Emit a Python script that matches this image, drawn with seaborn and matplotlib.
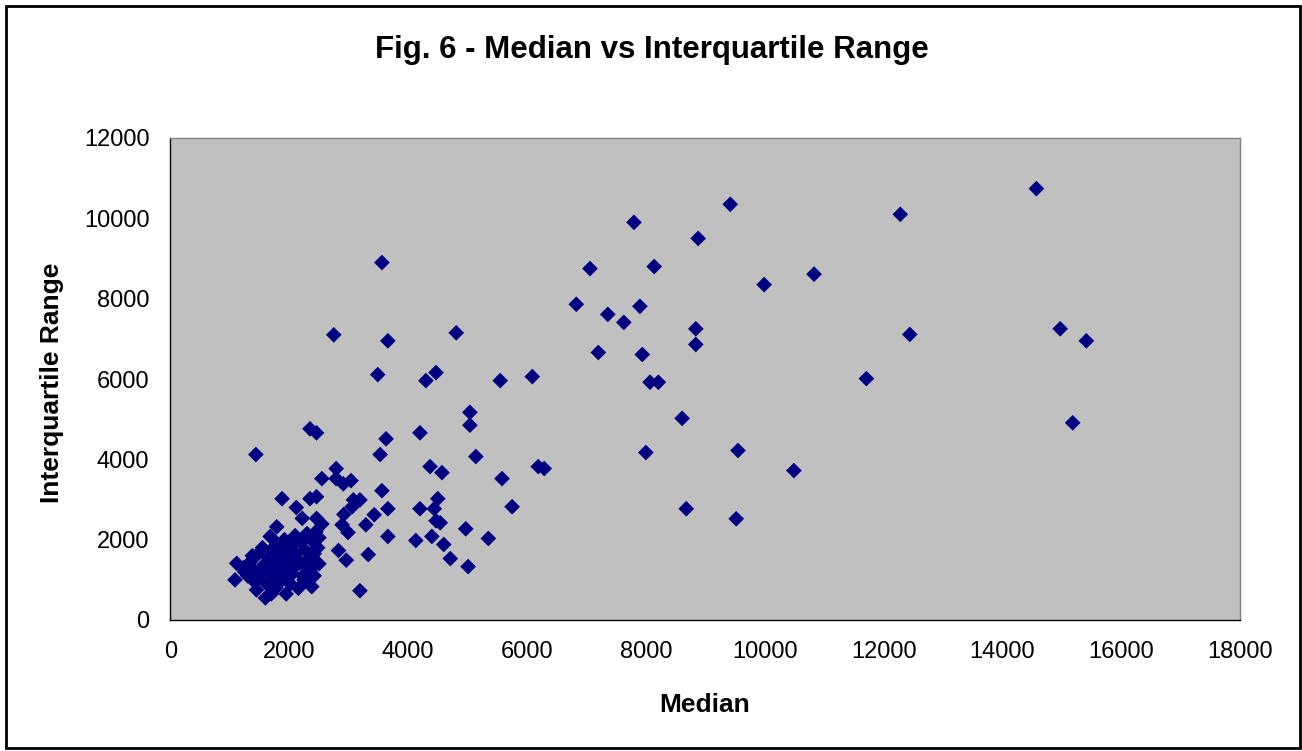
import matplotlib
matplotlib.use("Agg")
import matplotlib.pyplot as plt
from matplotlib.patches import Rectangle
import seaborn as sns
import pandas as pd

# ---- data ----
median = [
    14570, 12280, 12440, 11710, 14970, 15410, 15180, 10830, 9990, 9420,
    7800, 8880, 7060, 8140, 6830, 7360, 7900, 7630, 8840, 8840,
    7200, 7940, 8070, 8210, 8610, 8000, 9550, 10490, 8680, 9520,
    4810, 3660, 3490, 4300, 4470, 5550, 6090, 5040, 5040, 4200,
    3630, 3530, 5140, 4370, 4570, 6190, 6290, 5580, 3560, 4500,
    5750, 3660, 4200, 4440, 3430, 4470, 4540, 4970, 3660, 4130,
    4400, 4600, 5350, 4710, 5010, 3560, 2750, 2350, 2460, 1440,
    2790, 2550, 2790, 2910, 3040, 1880, 2350, 2460, 3080, 3190,
    2120, 3060, 2920, 3290, 2890, 2990, 3330, 2830, 2960, 3190,
    2220, 2460, 2550, 1790, 1680,
    1117, 1089, 1230, 1300, 1350, 1400, 1420, 1480, 1500, 1550,
    1560, 1600, 1620, 1650, 1680, 1700, 1720, 1750, 1780, 1800,
    1820, 1850, 1880, 1900, 1920, 1950, 1980, 2000, 2020, 2050,
    2070, 2100, 2120, 2154, 2180, 2200, 2230, 2260, 2300, 2320,
    2350, 2380, 2400, 2420, 2450, 2480, 2500, 2500, 2250, 1950,
    1700, 1450, 1250, 1380, 2150, 2280, 1850, 2420, 1550, 2050,
]
iqr = [
    10740, 10100, 7110, 6010, 7250, 6950, 4910, 8610, 8350, 10350,
    9900, 9500, 8750, 8800, 7860, 7610, 7810, 7410, 7250, 6860,
    6660, 6610, 5920, 5920, 5020, 4170, 4220, 3720, 2770, 2520,
    7150, 6950, 6110, 5960, 6160, 5960, 6060, 5170, 4850, 4660,
    4510, 4120, 4070, 3820, 3670, 3820, 3770, 3520, 3220, 3020,
    2820, 2770, 2770, 2770, 2620, 2470, 2420, 2270, 2080, 1980,
    2080, 1880, 2030, 1530, 1330, 8900, 7100, 4760, 4660, 4120,
    3770, 3520, 3520, 3390, 3470, 3020, 3020, 3070, 2990, 2990,
    2800, 2820, 2630, 2370, 2370, 2180, 1630, 1730, 1490, 730,
    2530, 2530, 2390, 2320, 2080,
    1411, 1000, 1300, 1100, 1450, 1250, 950, 1650, 1100, 1800,
    1350, 550, 900, 1550, 1200, 1750, 1000, 1400, 800, 1900,
    1150, 1600, 1000, 1300, 2000, 1750, 1100, 1500, 900, 1850,
    1300, 2100, 1650, 790, 1450, 1950, 1100, 1750, 2150, 1500,
    1250, 830, 1950, 1650, 2200, 1800, 1400, 2050, 1000, 650,
    650, 750, 1200, 1600, 1400, 1300, 1450, 1100, 1250, 1150,
]
x_ticks = [0, 2000, 4000, 6000, 8000, 10000, 12000, 14000, 16000, 18000]
y_ticks = [0, 2000, 4000, 6000, 8000, 10000, 12000]
title = "Fig. 6 - Median vs Interquartile Range"
x_label = "Median"
y_label = "Interquartile Range"

df = pd.DataFrame({"Median": median, "IQR": iqr})

sns.set_style("white")
plt.rcParams["font.family"] = ["Liberation Sans", "DejaVu Sans"]
plt.rcParams["text.color"] = "black"

W, H = 1302, 751
fig = plt.figure(figsize=(W / 100, H / 100), dpi=100)
fig.patch.set_facecolor("white")
ax = fig.add_axes([170.3 / W, 1 - 620 / H, 1070 / W, 482 / H])
ax.set_facecolor("#C0C0C0")

sns.scatterplot(data=df, x="Median", y="IQR", ax=ax, marker="D", s=64,
                color="#000080", edgecolor="none", linewidth=0, legend=False)

ax.set_xlim(0, 18000)
ax.set_ylim(0, 12000)
ax.set_xticks(x_ticks)
ax.set_yticks(y_ticks)
ax.set_xticklabels([str(v) for v in x_ticks])
ax.set_yticklabels([str(v) for v in y_ticks])
ax.tick_params(axis="both", direction="out", length=6, width=1, color="black",
               labelsize=17, labelcolor="black")
ax.tick_params(axis="y", pad=9)
ax.tick_params(axis="x", pad=9)
ax.set_xlabel("")
ax.set_ylabel("")
for side in ["left", "bottom"]:
    ax.spines[side].set_color("black")
    ax.spines[side].set_linewidth(1)
for side in ["top", "right"]:
    ax.spines[side].set_color("#808080")
    ax.spines[side].set_linewidth(1)
    ax.spines[side].set_visible(True)

fig.text(652 / W, 1 - 50 / H, title, ha="center", va="center",
         fontsize=22.5, fontweight="bold", color="black")
fig.text(705 / W, 1 - 705 / H, x_label, ha="center", va="center",
         fontsize=19, fontweight="bold", color="black")
fig.text(52 / W, 1 - 383 / H, y_label, ha="center", va="center",
         fontsize=19, fontweight="bold", rotation=90, color="black")

fig.patches.append(Rectangle((6 / W, 3 / H), 1294 / W, 742 / H,
                             transform=fig.transFigure, fill=False,
                             edgecolor="black", linewidth=2))

fig.savefig("out.png", dpi=100)
